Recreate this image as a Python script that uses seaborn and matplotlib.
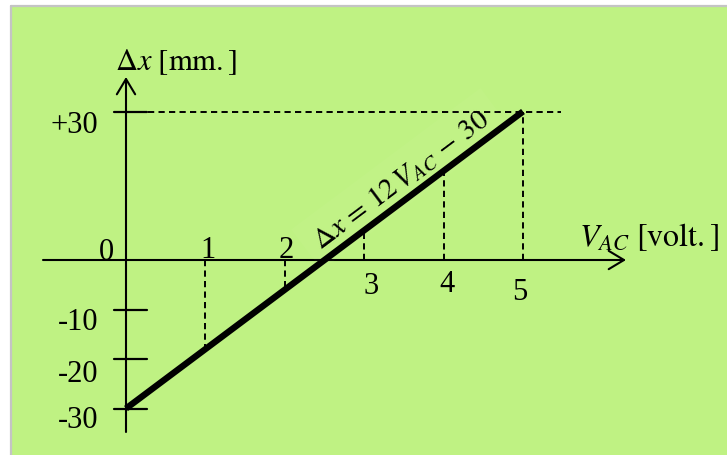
import numpy as np
import matplotlib
matplotlib.use("Agg")
import matplotlib.pyplot as plt
from matplotlib.patches import Rectangle, FancyArrowPatch
from matplotlib.lines import Line2D
import pandas as pd
import seaborn as sns

# Calibration line: displacement vs. applied voltage, dx = 12*V - 30
volts = [0, 1, 2, 3, 4, 5]
dx_mm = [-30, -18, -6, 6, 18, 30]
x_ticks = [1, 2, 3, 4, 5]
y_ticks = [-10, -20, -30]
y_tick_labels = ["-10", "-20", "-30"]

sns.set_style("white")
plt.rcParams["font.family"] = ["Liberation Serif", "DejaVu Serif"]
plt.rcParams["mathtext.fontset"] = "stix"
plt.rcParams["text.color"] = "black"

W, H = 727, 456
fig = plt.figure(figsize=(W / 100, H / 100), dpi=100)
fig.patch.set_facecolor("white")

# panel background with a thin grey frame on its left and top
bg_left, bg_top = 11 / W, 1 - 7 / H
fig.patches.append(Rectangle((bg_left, 0), 1 - bg_left, bg_top, transform=fig.transFigure,
                             facecolor="#bff283", edgecolor="none", zorder=-2))
fig.lines.append(Line2D([bg_left, bg_left], [0, bg_top], transform=fig.transFigure,
                        color="#c4c4c4", lw=1.6, zorder=-1))
fig.lines.append(Line2D([bg_left, 1], [bg_top, bg_top], transform=fig.transFigure,
                        color="#c4c4c4", lw=1.6, zorder=-1))

ax = fig.add_axes([0, 0, 1, 1])
ax.patch.set_alpha(0)
# pixel scale: 79.4 px per volt, 4.95 px per mm, origin at (126, 261)
sx, sy, ox, oy = 79.4, 4.95, 126, 261
ax.set_xlim((0 - ox) / sx, (W - ox) / sx)
ax.set_ylim((oy - H) / sy, (oy - 0) / sy)
ax.axis("off")

# coordinate axes with open arrow heads
arrow_kw = dict(arrowstyle="->,head_length=0.5,head_width=0.3", mutation_scale=22,
                color="black", lw=1.5, shrinkA=0, shrinkB=0)
ax.add_patch(FancyArrowPatch(((43 - ox) / sx, 0), ((626 - ox) / sx, 0), **arrow_kw))
ax.add_patch(FancyArrowPatch((0, (oy - 433) / sy), (0, (oy - 78) / sy), **arrow_kw))

# y-axis tick marks
for t in y_ticks + [30]:
    ax.plot([(114 - ox) / sx, (147 - ox) / sx], [t, t], color="black", lw=1.6)

# dashed guides from the axis up/down to the line
dash = (3.2, 2.2)
for v, d in zip(volts[1:], dx_mm[1:]):
    ax.plot([v, v], [0, d], color="black", lw=1.4, dashes=dash)
ax.plot([(148 - ox) / sx, (561 - ox) / sx], [dx_mm[-1], dx_mm[-1]],
        color="black", lw=1.4, dashes=dash)

# the calibration line itself
df = pd.DataFrame({"V": volts, "dx": dx_mm})
sns.lineplot(data=df, x="V", y="dx", ax=ax, color="black", lw=4.6,
             solid_capstyle="butt", zorder=5)

fs = 22
# y tick labels
ax.text((98 - ox) / sx, (oy - 125) / sy, "+30", ha="right", va="center", fontsize=fs)
ax.text((114 - ox) / sx, (oy - 252) / sy, "0", ha="right", va="center", fontsize=fs)
for t, lab, ypix in zip(y_ticks, y_tick_labels, [323, 374, 421]):
    ax.text((98 - ox) / sx, (oy - ypix) / sy, lab, ha="right", va="center", fontsize=fs)

# x tick labels (1, 2 above the axis, 3-5 below)
x_label_pix = [(208, 251), (286, 251), (371, 287), (447, 285), (520, 293)]
for v, (xp, yp) in zip(x_ticks, x_label_pix):
    ax.text((xp - ox) / sx, (oy - yp) / sy, str(v), ha="center", va="center", fontsize=fs)

# axis titles
ax.text((115 - ox) / sx, (oy - 62) / sy, r"$\Delta x\ [\mathrm{mm.}]$",
        ha="left", va="center", fontsize=fs)
ax.text((579 - ox) / sx, (oy - 237) / sy, r"$V_{AC}\ [\mathrm{volt.}]$",
        ha="left", va="center", fontsize=fs + 1)

# equation written along the line
fig.canvas.draw()
p = ax.transData.transform([(volts[0], dx_mm[0]), (volts[-1], dx_mm[-1])])
angle = np.degrees(np.arctan2(p[1, 1] - p[0, 1], p[1, 0] - p[0, 0]))
ax.text((401 - ox) / sx, (oy - 180) / sy, r"$\Delta x\,=\,12\,V_{AC}\,-\,30$",
        rotation=angle, rotation_mode="anchor", ha="center", va="center",
        fontsize=fs - 1, zorder=4,
        bbox=dict(boxstyle="square,pad=0.4", fc="white", ec="none", alpha=0.03))

fig.savefig("out.png", dpi=100)
